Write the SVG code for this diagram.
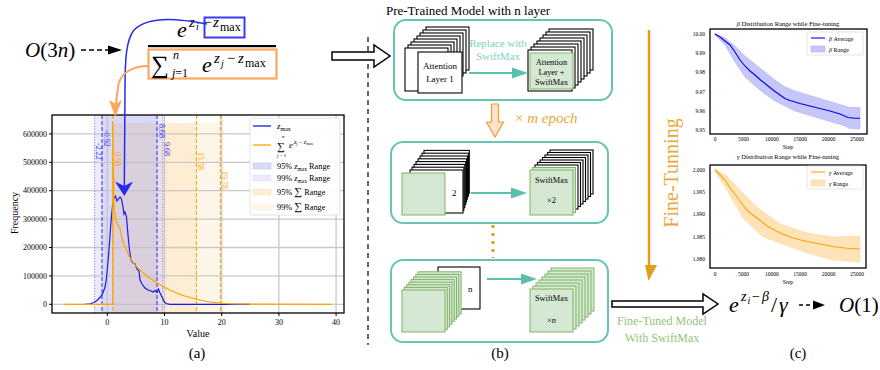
<svg xmlns="http://www.w3.org/2000/svg" width="880" height="370" viewBox="0 0 880 370">
<style>
text{font-family:"Liberation Serif","Times New Roman",serif}
.it{font-style:italic}
.tk{font-size:8px}
.ctk{font-size:5.5px}
.grid{stroke:#c4c4c4;stroke-width:1.3}
.wl{fill:#fff;stroke:#000;stroke-width:1.1}
.gl{fill:#d5e8d4;stroke:#82b366;stroke-width:1}
.teal{fill:none;stroke:#67c5b3;stroke-width:2}
.ta{stroke:#5cbfae;stroke-width:2}
.lbl{font-size:9px;text-anchor:middle}
.ax{fill:none;stroke:#000;stroke-width:1.3}
</style>
<defs>
<clipPath id="hclip"><rect x="52" y="115" width="292" height="198"/></clipPath>
</defs>

<!-- Formula top -->
<g id="formula-top">
<text x="25" y="57" font-size="21"><tspan class="it">O</tspan>(3<tspan class="it">n</tspan>)</text>
<text x="177" y="37" font-size="22" class="it">e</text>
<text x="189" y="27" font-size="15" class="it">z</text>
<text x="196" y="30" font-size="10" class="it">i</text>
<text x="203" y="27" font-size="15">−</text>
<text x="213" y="27" font-size="15" class="it">z</text>
<text x="220" y="31" font-size="12">max</text>
<rect x="204.5" y="17.5" width="40" height="20" fill="none" stroke="#3a3af5" stroke-width="2"/>
<rect x="148" y="45" width="128" height="2.2" fill="#000"/>
<rect x="148.5" y="49.5" width="128" height="29" fill="none" stroke="#f8a860" stroke-width="2.2"/>
<text x="151" y="73" font-size="25">∑</text>
<text x="173" y="59" font-size="12" class="it">n</text>
<text x="172" y="77" font-size="12"><tspan class="it">j</tspan>=1</text>
<text x="202" y="72" font-size="22" class="it">e</text>
<text x="214" y="63" font-size="15" class="it">z</text>
<text x="221" y="67" font-size="10" class="it">j</text>
<text x="227" y="63" font-size="15">−</text>
<text x="238" y="63" font-size="15" class="it">z</text>
<text x="245" y="67" font-size="12">max</text>
</g>

<!-- Histogram panel (a) -->
<g id="histogram">
<g clip-path="url(#hclip)">
<rect x="94.6" y="115" width="68.1" height="198" fill="#ebebfb"/>
<rect x="102" y="115" width="55" height="198" fill="#dadaf6"/>
<rect x="162.7" y="123" width="33.7" height="190" fill="#fdedd4"/>
<rect x="196.4" y="123" width="24" height="190" fill="#fef6ea"/>
<rect x="157" y="123" width="5.7" height="190" fill="#e9dfe6"/>
<rect x="112.9" y="123" width="44.1" height="190" fill="#dacfdc"/>
<g class="grid" opacity="0.9">
<line x1="52" y1="304.3" x2="344" y2="304.3"/>
<line x1="52" y1="275.9" x2="344" y2="275.9"/>
<line x1="52" y1="247.5" x2="344" y2="247.5"/>
<line x1="52" y1="219.1" x2="344" y2="219.1"/>
<line x1="52" y1="190.7" x2="344" y2="190.7"/>
<line x1="52" y1="162.3" x2="344" y2="162.3"/>
<line x1="52" y1="133.9" x2="344" y2="133.9"/>
<line x1="107.3" y1="115" x2="107.3" y2="313"/>
<line x1="164.5" y1="115" x2="164.5" y2="313"/>
<line x1="221.7" y1="115" x2="221.7" y2="313"/>
<line x1="278.9" y1="115" x2="278.9" y2="313"/>
<line x1="336.1" y1="115" x2="336.1" y2="313"/>
</g>
<g fill="none" stroke-width="1.1">
<line x1="94.6" y1="115" x2="94.6" y2="313" stroke="#8a8aff" stroke-dasharray="1.2,1.5"/>
<line x1="162.7" y1="115" x2="162.7" y2="313" stroke="#8a8aff" stroke-dasharray="1.2,1.5"/>
<line x1="102" y1="115" x2="102" y2="313" stroke="#3a3aff" stroke-dasharray="4,2"/>
<line x1="157" y1="115" x2="157" y2="313" stroke="#3a3aff" stroke-dasharray="4,2"/>
<line x1="112.9" y1="115" x2="112.9" y2="313" stroke="#ffa500" stroke-dasharray="4,2"/>
<line x1="196.4" y1="115" x2="196.4" y2="313" stroke="#ffa500" stroke-dasharray="4,2"/>
<line x1="220.4" y1="115" x2="220.4" y2="313" stroke="#ffa500" stroke-dasharray="4,2"/>
</g>
<polyline fill="none" stroke="#1a1aee" stroke-width="1.2" points="85,304.3 90,303.8 94,302.5 97,300.5 100,297.5 103,293 105,287 106.5,278 108,262 109.5,243 111,222 112.5,206 114,198 115.5,196 117,201 118.5,199 120,197 121.5,199 123,207 124,214 125,212 126.5,217 128,235 129.5,250 131,260 133,263 135,264 137,269 139,271 140,280 142,284 145,288 148,290 151,291 153,292 155,290.5 157,292.5 158.5,289 160,293 162,297 164,301.5 166,303.5 170,304.3 250,304.3"/>
<polyline fill="none" stroke="#ffa500" stroke-width="1.2" points="65,304.3 112.8,304.3 112.8,122 114,205 115.5,218 117,224 118.5,226 120,229 121.5,236 123,242 125,246 127,251 129,256 132,261 136,266 141,271 147,276 154,281 162,286 170,290 180,294.5 190,297.5 200,300 210,302 220,303.2 235,304 332,304.3"/>
</g>
<g font-size="8">
<text transform="translate(95.5,143) rotate(90)" fill="#3a3aff">-2.22</text>
<text transform="translate(103.5,130) rotate(90)" fill="#3a3aff">-0.92</text>
<text transform="translate(114.5,152) rotate(90)" fill="#ffa500">0.98</text>
<text transform="translate(158.5,124) rotate(90)" fill="#3a3aff">8.68</text>
<text transform="translate(164,142) rotate(90)" fill="#3a3aff">9.68</text>
<text transform="translate(197.5,152) rotate(90)" fill="#ffa500">15.58</text>
<text transform="translate(221.5,171) rotate(90)" fill="#ffa500">19.78</text>
</g>
<rect x="52" y="115" width="292" height="198" class="ax"/>
<g stroke="#000" stroke-width="1">
<line x1="49" y1="304.3" x2="52" y2="304.3"/><line x1="49" y1="275.9" x2="52" y2="275.9"/><line x1="49" y1="247.5" x2="52" y2="247.5"/><line x1="49" y1="219.1" x2="52" y2="219.1"/><line x1="49" y1="190.7" x2="52" y2="190.7"/><line x1="49" y1="162.3" x2="52" y2="162.3"/><line x1="49" y1="133.9" x2="52" y2="133.9"/>
<line x1="107.3" y1="313" x2="107.3" y2="316"/><line x1="164.5" y1="313" x2="164.5" y2="316"/><line x1="221.7" y1="313" x2="221.7" y2="316"/><line x1="278.9" y1="313" x2="278.9" y2="316"/><line x1="336.1" y1="313" x2="336.1" y2="316"/>
</g>
<g class="tk" text-anchor="end">
<text x="47" y="307">0</text><text x="47" y="278.6">100000</text><text x="47" y="250.2">200000</text><text x="47" y="221.8">300000</text><text x="47" y="193.4">400000</text><text x="47" y="165">500000</text><text x="47" y="136.6">600000</text>
</g>
<g class="tk" text-anchor="middle">
<text x="107.3" y="325">0</text><text x="164.5" y="325">10</text><text x="221.7" y="325">20</text><text x="278.9" y="325">30</text><text x="336.1" y="325">40</text>
</g>
<text transform="translate(18,213) rotate(-90)" font-size="10" text-anchor="middle">Frequency</text>
<text x="198" y="337" font-size="10" text-anchor="middle">Value</text>
<text x="197" y="358" font-size="15" text-anchor="middle">(a)</text>
<!-- legend -->
<rect x="250" y="118" width="90" height="97" rx="2" fill="#fff" fill-opacity="0.92" stroke="#dcdcdc" stroke-width="0.8"/>
<line x1="253" y1="126" x2="271" y2="126" stroke="#1a1aee" stroke-width="1.3"/>
<text x="277" y="129" font-size="9"><tspan class="it">z</tspan><tspan font-size="6" dy="1.5">max</tspan></text>
<line x1="253" y1="145" x2="271" y2="145" stroke="#ffa500" stroke-width="1.3"/>
<text x="282" y="138" font-size="5" class="it">n</text>
<text x="277" y="150" font-size="11">∑</text>
<text x="277" y="157" font-size="5"><tspan class="it">j</tspan> = 1</text>
<text x="289" y="148" font-size="9" class="it">e</text>
<text x="294" y="144" font-size="6"><tspan class="it">z</tspan><tspan font-size="4" dy="1">j</tspan><tspan dy="-1"> − </tspan><tspan class="it">z</tspan><tspan font-size="4" dy="1">max</tspan></text>
<rect x="253" y="163" width="18" height="6" fill="#dadaf6" stroke="#c0c0f0" stroke-width="0.5"/>
<text x="277" y="169" font-size="8.3">95% <tspan class="it">z</tspan><tspan font-size="5.5" dy="1.5">max</tspan><tspan dy="-1.5"> Range</tspan></text>
<rect x="253" y="175" width="18" height="6" fill="#ebebfb" stroke="#dcdcf8" stroke-width="0.5"/>
<text x="277" y="181" font-size="8.3">99% <tspan class="it">z</tspan><tspan font-size="5.5" dy="1.5">max</tspan><tspan dy="-1.5"> Range</tspan></text>
<rect x="253" y="189" width="18" height="6" fill="#fdedd4" stroke="#fbe0b8" stroke-width="0.5"/>
<text x="277" y="195" font-size="8.3">95% <tspan font-size="11">∑</tspan> Range</text>
<rect x="253" y="204" width="18" height="6" fill="#fef6ea" stroke="#fdecd6" stroke-width="0.5"/>
<text x="277" y="210" font-size="8.3">99% <tspan font-size="11">∑</tspan> Range</text>
</g>

<!-- Panel (b) top -->
<g id="panel-b-top">
<text x="468" y="15" font-size="13" text-anchor="middle">Pre-Trained Model with n layer</text>
<rect x="394" y="20" width="218" height="80" rx="12" class="teal"/>
<rect class="wl" x="426" y="27" width="43" height="43"/>
<rect class="wl" x="423" y="30" width="43" height="43"/>
<rect class="wl" x="420" y="33" width="43" height="43"/>
<rect class="wl" x="417" y="36" width="43" height="43"/>
<rect class="wl" x="414" y="39" width="43" height="43"/>
<rect class="wl" x="411" y="42" width="43" height="43"/>
<rect class="wl" x="408" y="45" width="43" height="43"/>
<rect class="wl" x="405" y="48" width="43" height="43"/>
<rect class="wl" x="418" y="52" width="44" height="41"/>
<text class="lbl" x="440" y="69">Attention</text>
<text class="lbl" x="440" y="82">Layer 1</text>
<text x="498" y="47" font-size="11" fill="#7dd3c3" text-anchor="middle">Replace with</text>
<text x="498" y="60" font-size="11" fill="#7dd3c3" text-anchor="middle">SwiftMax</text>
<rect class="wl" x="549" y="29" width="44" height="41"/>
<rect class="wl" x="546" y="32" width="44" height="41"/>
<rect class="wl" x="543" y="35" width="44" height="41"/>
<rect class="wl" x="540" y="38" width="44" height="41"/>
<rect class="wl" x="537" y="41" width="44" height="41"/>
<rect class="wl" x="534" y="44" width="44" height="41"/>
<rect class="wl" x="531" y="47" width="44" height="41"/>
<rect class="wl" x="528" y="50" width="44" height="41"/>
<rect class="gl" x="530" y="53" width="43" height="36"/>
<text x="551.5" y="65" font-size="8.3" text-anchor="middle">Attention</text>
<text x="551.5" y="75" font-size="8.3" text-anchor="middle">Layer +</text>
<text x="551.5" y="85" font-size="8.3" text-anchor="middle">SwiftMax</text>
</g>

<!-- Panel (b) middle -->
<g id="panel-b-mid">
<rect x="391" y="142" width="217" height="81" rx="12" class="teal"/>
<rect class="wl" x="424" y="150.4" width="45.3" height="43"/>
<rect class="wl" x="422" y="153.2" width="46.4" height="43"/>
<rect class="wl" x="420" y="156" width="47.5" height="43"/>
<rect class="wl" x="418" y="158.8" width="48.6" height="43"/>
<rect class="wl" x="416" y="161.6" width="49.7" height="43"/>
<rect class="wl" x="414" y="164.4" width="50.8" height="43"/>
<rect class="wl" x="412" y="167.2" width="51.9" height="43"/>
<rect class="wl" x="410" y="170" width="53" height="43"/>
<text x="452" y="196" font-size="9">2</text>
<rect class="gl" x="402" y="173" width="43" height="42"/>
<rect class="wl" x="550" y="150" width="43" height="44"/>
<rect class="wl" x="547.5" y="152.5" width="43" height="44"/>
<rect class="wl" x="545" y="155" width="43" height="44"/>
<rect class="wl" x="542.5" y="157.5" width="43" height="44"/>
<rect class="wl" x="540" y="160" width="43" height="44"/>
<rect class="wl" x="537.5" y="162.5" width="43" height="44"/>
<rect class="wl" x="535" y="165" width="43" height="44"/>
<rect class="gl" x="532.5" y="167.5" width="43" height="45"/>
<rect class="gl" x="530" y="170" width="43" height="45"/>
<text x="551.5" y="183" font-size="8.3" text-anchor="middle">SwiftMax</text>
<text x="551.5" y="203" font-size="8.3" text-anchor="middle">×2</text>
</g>

<!-- Panel (b) bottom -->
<g id="panel-b-bot">
<rect x="391" y="260" width="217" height="82" rx="12" class="teal"/>
<rect class="wl" x="438" y="267" width="42" height="42"/>
<text x="468" y="292" font-size="9">n</text>
<rect class="gl" x="418.1" y="271.8" width="43" height="42"/>
<rect class="gl" x="415.8" y="274.4" width="43" height="42"/>
<rect class="gl" x="413.5" y="277" width="43" height="42"/>
<rect class="gl" x="411.2" y="279.6" width="43" height="42"/>
<rect class="gl" x="408.9" y="282.2" width="43" height="42"/>
<rect class="gl" x="406.6" y="284.8" width="43" height="42"/>
<rect class="gl" x="404.3" y="287.4" width="43" height="42"/>
<rect class="gl" x="402" y="290" width="43" height="42"/>
<rect class="gl" x="551" y="268" width="43" height="43"/>
<rect class="gl" x="548" y="271" width="43" height="43"/>
<rect class="gl" x="545" y="274" width="43" height="43"/>
<rect class="gl" x="542" y="277" width="43" height="43"/>
<rect class="gl" x="539" y="280" width="43" height="43"/>
<rect class="gl" x="536" y="283" width="43" height="43"/>
<rect class="gl" x="533" y="286" width="43" height="43"/>
<rect class="gl" x="530" y="289" width="43" height="43"/>
<text x="551.5" y="301" font-size="8.3" text-anchor="middle">SwiftMax</text>
<text x="551.5" y="323" font-size="8.3" text-anchor="middle">×<tspan class="it">n</tspan></text>
<text x="500" y="358" font-size="15" text-anchor="middle">(b)</text>
<text x="662" y="325" font-size="12" fill="#93c47d" text-anchor="middle">Fine-Tuned Model</text>
<text x="662" y="342" font-size="12" fill="#93c47d" text-anchor="middle">With SwiftMax</text>
</g>

<text x="515" y="123" font-size="15" fill="#e8a838">× <tspan class="it">m epoch</tspan></text>

<!-- Beta chart -->
<g id="chart-beta">
<text x="788" y="26" font-size="6.5" text-anchor="middle"><tspan class="it">β</tspan> Distribution Range while Fine-tuning</text>
<path d="M715,33.5 L725,38 L735,46 L745,56 L755,64 L765,72 L775,80 L785,87 L795,91 L805,94 L815,97 L825,100 L835,103 L845,106 L850,107.5 L860,107.5 L860,129 L850,128.5 L845,126 L835,123 L825,120 L815,117 L805,114 L795,111 L785,106 L775,101 L765,94 L755,86 L745,77 L735,62 L725,45 L715,35 Z" fill="#c6c6f8" stroke="#a8a8f4" stroke-width="0.5"/>
<polyline fill="none" stroke="#0000ee" stroke-width="1.1" points="715,34 720,37 725,41 730,45 735,52 740,60 745,66 750,71 755,75 760,79.5 765,83.5 770,87.5 775,91.5 780,95 785,98.5 790,100.5 795,102 800,103.5 810,106 820,108.5 830,111 840,114 848,117.5 855,118.3 860,118.3"/>
<rect x="710" y="29" width="157" height="105" class="ax" stroke-width="1.1"/>
<g class="ctk" text-anchor="end">
<text x="705" y="36">10.00</text><text x="705" y="55.2">9.99</text><text x="705" y="74.4">9.98</text><text x="705" y="93.6">9.97</text><text x="705" y="112.8">9.96</text><text x="705" y="132">9.95</text>
</g>
<g class="ctk" text-anchor="middle">
<text x="715" y="141">0</text><text x="743.4" y="141">5000</text><text x="771.8" y="141">10000</text><text x="800.2" y="141">15000</text><text x="828.6" y="141">20000</text><text x="857" y="141">25000</text>
<text x="788" y="149" font-size="6">Step</text>
</g>
<rect x="807" y="32" width="56" height="23" rx="1.5" fill="#fff" stroke="#d0d0d0" stroke-width="0.6"/>
<line x1="811" y1="38" x2="825" y2="38" stroke="#0000ee" stroke-width="1.1"/>
<text x="829" y="40.5" font-size="6"><tspan class="it">β</tspan> Average</text>
<rect x="811" y="46" width="14" height="6" fill="#c6c6f8" stroke="#a8a8f4" stroke-width="0.5"/>
<text x="829" y="51.5" font-size="6"><tspan class="it">β</tspan> Range</text>
</g>

<!-- Gamma chart -->
<g id="chart-gamma">
<text x="788" y="159" font-size="6.5" text-anchor="middle"><tspan class="it">γ</tspan> Distribution Range while Fine-tuning</text>
<path d="M715,169 L727,176 L740,190 L757,207 L780,224 L807,233 L833,237 L860,236 L860,262 L833,260 L807,253 L780,243 L763,237 L743,218 L727,190 L715,171 Z" fill="#ffe3b8" stroke="#ffd08e" stroke-width="0.5"/>
<polyline fill="none" stroke="#ffa500" stroke-width="1.1" points="715,170 720,175 725,180 730,188 735,194 740,201 745,208 750,213 757,218 767,226 780,233 793,238 807,241.5 820,244 833,246.5 847,248.3 860,249"/>
<rect x="710" y="165" width="156" height="103" class="ax" stroke-width="1.1"/>
<g class="ctk" text-anchor="end">
<text x="705" y="172">2.000</text><text x="705" y="194.2">1.995</text><text x="705" y="216.4">1.990</text><text x="705" y="238.6">1.985</text><text x="705" y="260.8">1.980</text>
</g>
<g class="ctk" text-anchor="middle">
<text x="715" y="276">0</text><text x="743.4" y="276">5000</text><text x="771.8" y="276">10000</text><text x="800.2" y="276">15000</text><text x="828.6" y="276">20000</text><text x="857" y="276">25000</text>
<text x="788" y="284" font-size="6">Step</text>
</g>
<rect x="807" y="166" width="56" height="23" rx="1.5" fill="#fff" stroke="#d0d0d0" stroke-width="0.6"/>
<line x1="811" y1="172" x2="825" y2="172" stroke="#ffa500" stroke-width="1.1"/>
<text x="829" y="174.5" font-size="6"><tspan class="it">γ</tspan> Average</text>
<rect x="811" y="180" width="14" height="6" fill="#ffe3b8" stroke="#ffd08e" stroke-width="0.5"/>
<text x="829" y="185.5" font-size="6"><tspan class="it">γ</tspan> Range</text>
</g>

<!-- Formula bottom -->
<g id="formula-bottom">
<text x="729" y="312" font-size="22" class="it">e</text>
<text x="741" y="301" font-size="14" class="it">z</text>
<text x="747.5" y="304" font-size="10" class="it">i</text>
<text x="752" y="301" font-size="14">−</text>
<text x="762" y="301" font-size="14" class="it">β</text>
<text x="771" y="312" font-size="22">/</text>
<text x="779" y="312" font-size="22" class="it">γ</text>
<text x="839" y="312" font-size="21"><tspan class="it">O</tspan>(1)</text>
<text x="798" y="358" font-size="15" text-anchor="middle">(c)</text>
</g>

<text transform="translate(678,173) rotate(-90)" font-size="20" fill="#e9a83e" text-anchor="middle">Fine-Tunning</text>

<!-- Connectors -->
<g id="connectors">
<line x1="81" y1="50" x2="110" y2="50" stroke="#000" stroke-width="1.5" stroke-dasharray="5,3"/>
<polygon points="108,45.5 122,50 108,54.5" fill="#000"/>
<path d="M207,24 C185,20 150,14 134,30 C126,40 125,60 125,90 L124.3,186" fill="none" stroke="#2a2af2" stroke-width="1.5"/>
<polygon points="124.3,196 115,181.5 124.3,186 133,181.5" fill="#2a2af2"/>
<path d="M148,66 C135,66 122,71 118.5,84 L115.8,104" fill="none" stroke="#f9a65a" stroke-width="2"/>
<polygon points="115.3,117 109,100 115.5,104 122,100" fill="#f9a65a"/>
<line x1="368" y1="37" x2="368" y2="345" stroke="#000" stroke-width="1.2" stroke-dasharray="5,4"/>
<polygon points="332,52 374,52 374,45 390,56 374,67 374,60 332,60" fill="#fff" stroke="#000" stroke-width="1.5"/>
<line x1="469" y1="73" x2="515" y2="73" class="ta"/>
<polygon points="512,67.5 528,73 512,78.5" fill="#5cbfae"/>
<line x1="471" y1="193" x2="514" y2="193" class="ta"/>
<polygon points="511,187.5 527,193 511,198.5" fill="#5cbfae"/>
<line x1="487" y1="279" x2="524" y2="279" class="ta"/>
<polygon points="521,273.5 537,279 521,284.5" fill="#5cbfae"/>
<polygon points="491.5,104 498.5,104 498.5,122 503.5,122 495,137 486.5,122 491.5,122" fill="#fde3cc" stroke="#e6a030" stroke-width="1.2"/>
<line x1="493" y1="225" x2="493" y2="258" stroke="#e6a020" stroke-width="3" stroke-dasharray="3,5"/>
<polygon points="612,301 703,301 703,294 718,304 703,314 703,307 612,307" fill="#fff" stroke="#000" stroke-width="1.5"/>
<line x1="649" y1="30" x2="649" y2="267" stroke="#de9f1f" stroke-width="2.5"/>
<polygon points="645,265 657,265 648.5,281" fill="#de9f1f"/>
<line x1="799" y1="305" x2="815" y2="305" stroke="#000" stroke-width="1.5" stroke-dasharray="4,3"/>
<polygon points="813,300.5 825,305 813,309.5" fill="#000"/>
</g>
</svg>
